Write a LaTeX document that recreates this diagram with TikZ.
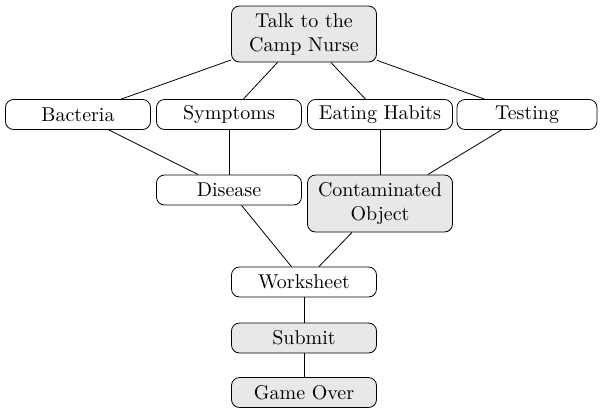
\documentclass[tikz,border=0pt]{standalone}
\usepackage{tikz}
\usetikzlibrary{shapes,arrows}
\tikzstyle{stepbox} = [draw,rectangle,rounded corners=4pt,align=center,minimum height=15pt,
                        minimum width=72.5pt,inner sep=0.5ex,fill=white]
\tikzstyle{graybox} = [stepbox,fill=gray!18]
\tikzstyle{link} = [thin]

\begin{document}
\begin{tikzpicture}[x=0.5pt,y=-0.5pt]
                        \useasboundingbox (0,0) rectangle (600,408);
                        \node[graybox,minimum height=28pt] (nurse) at (304,34) {Talk to the\\Camp Nurse};
                        \node[stepbox] (bacteria) at (78,114.5) {Bacteria};
                        \node[stepbox] (symptoms) at (229,114.5) {Symptoms};
                        \node[stepbox] (eating) at (380,114.5) {Eating Habits};
                        \node[stepbox,minimum width=70pt] (testing) at (527,114.5) {Testing};
                        \node[stepbox] (disease) at (229,190) {Disease};
                        \node[graybox,minimum height=28.5pt] (object) at (380,203.5) {Contaminated\\Object};
                        \node[stepbox] (worksheet) at (304,282) {Worksheet};
                        \node[graybox] (submit) at (304,338) {Submit};
                        \node[graybox] (gameover) at (304,392.5) {Game Over};
                        \draw[link] (nurse) -- (bacteria);
                        \draw[link] (nurse) -- (symptoms);
                        \draw[link] (nurse) -- (eating);
                        \draw[link] (nurse) -- (testing);
                        \draw[link] (bacteria) -- (disease);
                        \draw[link] (symptoms) -- (disease);
                        \draw[link] (eating) -- (object);
                        \draw[link] (testing) -- (object);
                        \draw[link] (disease) -- (worksheet);
                        \draw[link] (object) -- (worksheet);
                        \draw[link] (worksheet) -- (submit);
                        \draw[link] (submit) -- (gameover);
                    \end{tikzpicture}
\end{document}
